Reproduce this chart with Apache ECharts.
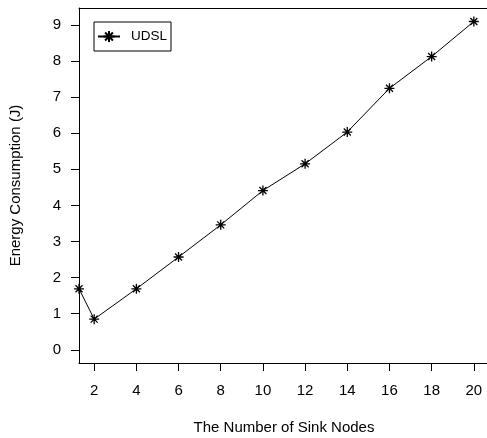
<!DOCTYPE html>
<html>
<head>
<meta charset="utf-8">
<script src="https://cdn.jsdelivr.net/npm/echarts@6/dist/echarts.min.js"></script>
<style>html,body{margin:0;padding:0;background:#fff;overflow:hidden;}#c{width:487px;height:438px;}</style>
</head>
<body>
<div id="c"></div>
<script>
var xValues = [1.28, 2, 4, 6, 8, 10, 12, 14, 16, 18, 20];
var udsl = [1.69, 0.85, 1.69, 2.57, 3.46, 4.41, 5.15, 6.03, 7.24, 8.12, 9.09];
var xTicks = [2, 4, 6, 8, 10, 12, 14, 16, 18, 20];
var yTicks = [0, 1, 2, 3, 4, 5, 6, 7, 8, 9];
var seriesName = 'UDSL';
var xTitle = 'The Number of Sink Nodes';
var yTitle = 'Energy Consumption (J)';

var font = 'Liberation Sans, Arial, Helvetica, sans-serif';
var star = 'path://M-1,0L1,0M0,-1L0,1M-0.7,-0.7L0.7,0.7M-0.7,0.7L0.7,-0.7';
var chart = echarts.init(document.getElementById('c'), null, {renderer: 'canvas'});
chart.setOption({
  animation: false,
  backgroundColor: '#fff',
  grid: {left: 79, top: 8, width: 410, height: 355, outerBoundsMode: 'none', containLabel: false, show: false},
  legend: {
    left: 94, top: 22,
    orient: 'vertical',
    padding: [7.5, 4, 7.5, 3],
    itemWidth: 22, itemHeight: 14,
    borderColor: '#000', borderWidth: 1, borderRadius: 0,
    textStyle: {fontFamily: font, fontSize: 13.5, color: '#000', padding: [0, 0, 0, 6]},
    data: [seriesName]
  },
  xAxis: [{
    type: 'value', min: 1.28, max: 20.72,
    name: xTitle, nameLocation: 'middle', nameGap: 57,
    nameTextStyle: {fontFamily: font, fontSize: 15, color: '#000'},
    axisLine: {show: true, onZero: false, lineStyle: {color: '#000', width: 1}},
    axisTick: {show: true, inside: false, length: 8, customValues: xTicks, lineStyle: {color: '#000'}},
    axisLabel: {customValues: xTicks, margin: 20, fontFamily: font, fontSize: 15, color: '#000'},
    splitLine: {show: false}
  }, {
    type: 'value', position: 'top', min: 1.28, max: 20.72,
    axisLine: {show: true, onZero: false, lineStyle: {color: '#000', width: 1}},
    axisTick: {show: false}, axisLabel: {show: false}, splitLine: {show: false}
  }],
  yAxis: {
    type: 'value', min: -0.364, max: 9.464,
    name: yTitle, nameLocation: 'middle', nameGap: 56, nameRotate: 90,
    nameTextStyle: {fontFamily: font, fontSize: 15, color: '#000'},
    axisLine: {show: true, onZero: false, lineStyle: {color: '#000', width: 1}},
    axisTick: {show: true, inside: false, length: 8, customValues: yTicks, lineStyle: {color: '#000'}},
    axisLabel: {customValues: yTicks, margin: 18, fontFamily: font, fontSize: 15, color: '#000'},
    splitLine: {show: false}
  },
  series: [{
    name: seriesName,
    type: 'line',
    xAxisIndex: 0,
    data: xValues.map(function (x, i) { return [x, udsl[i]]; }),
    symbol: star, symbolSize: 10, showAllSymbol: true,
    lineStyle: {color: '#000', width: 1},
    itemStyle: {color: '#000', borderColor: '#000', borderWidth: 1.3},
    clip: false
  }]
});
</script>
</body>
</html>
